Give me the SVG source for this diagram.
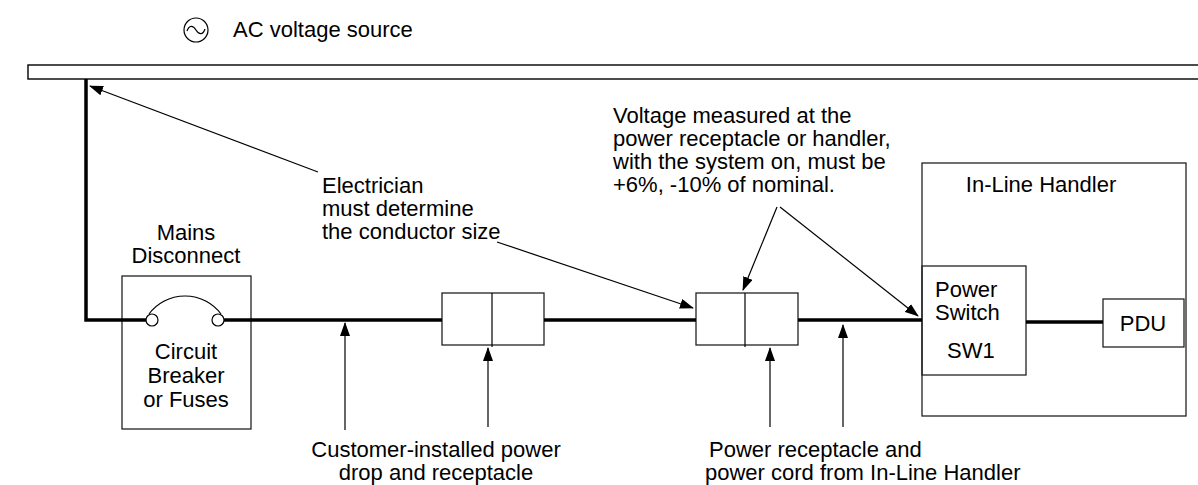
<svg xmlns="http://www.w3.org/2000/svg" width="1198" height="485" viewBox="0 0 1198 485">
<style>
text{font-family:"Liberation Sans",Arial,sans-serif;font-size:22px;fill:#000}
.c{text-anchor:middle}
.box{fill:#fff;stroke:#222;stroke-width:1.3}
.frame{fill:none;stroke:#222;stroke-width:1.3}
.wire{fill:none;stroke:#000;stroke-width:3.5}
.lead{fill:none;stroke:#000;stroke-width:1.2}
</style>
<defs>
<marker id="ah" markerUnits="userSpaceOnUse" markerWidth="14" markerHeight="10" refX="13" refY="5" orient="auto">
<path d="M0,0 L14,5 L0,10 Z" fill="#000"/>
</marker>
</defs>
<g id="legend">
<circle cx="196" cy="30" r="12" fill="none" stroke="#000" stroke-width="1.2"/>
<path d="M187,31 C189,25 193,25 196,30 C199,35 203,35 205,29" fill="none" stroke="#000" stroke-width="1.2"/>
<text x="233" y="37">AC voltage source</text>
</g>
<g id="source-bar">
<rect x="28" y="65" width="1180" height="14" fill="#fff" stroke="#000" stroke-width="1.4"/>
</g>
<g id="mains-disconnect">
<text class="c" x="186" y="240">Mains</text>
<text class="c" x="186" y="263">Disconnect</text>
<rect class="box" x="122" y="276" width="129" height="153"/>
<path d="M149,314 A45,45 0 0 1 221,314" fill="none" stroke="#000" stroke-width="1.2"/>
<text class="c" x="186" y="359">Circuit</text>
<text class="c" x="186" y="383">Breaker</text>
<text class="c" x="186" y="407">or Fuses</text>
</g>
<g id="receptacle-1">
<rect class="box" x="442" y="293" width="102" height="52"/>
<line x1="492" y1="293" x2="492" y2="347" stroke="#000" stroke-width="1.2"/>
</g>
<g id="receptacle-2">
<rect class="box" x="696" y="293" width="102" height="52"/>
<line x1="745" y1="293" x2="745" y2="347" stroke="#000" stroke-width="1.2"/>
</g>
<g id="in-line-handler">
<rect class="frame" x="922" y="163" width="264" height="253"/>
<text class="c" x="1041" y="192">In-Line Handler</text>
</g>
<g id="power-switch">
<rect class="frame" x="922" y="266" width="104" height="109"/>
<text x="935" y="297">Power</text>
<text x="935" y="320">Switch</text>
<text x="947" y="358">SW1</text>
</g>
<g id="pdu">
<rect class="frame" x="1103" y="299" width="81" height="48"/>
<text class="c" x="1143" y="331">PDU</text>
</g>
<g id="connectors">
<path class="wire" d="M86,79 V320 H147"/>
<path class="wire" d="M224,320 H442"/>
<path class="wire" d="M544,320 H696"/>
<path class="wire" d="M798,320 H922"/>
<path class="wire" d="M1026,322 H1103"/>
<circle cx="152" cy="320" r="6" fill="#fff" stroke="#000" stroke-width="1.2"/>
<circle cx="218" cy="320" r="6" fill="#fff" stroke="#000" stroke-width="1.2"/>
<line class="lead" x1="318" y1="172" x2="90" y2="86" marker-end="url(#ah)"/>
<line class="lead" x1="497" y1="242" x2="693" y2="308" marker-end="url(#ah)"/>
<line class="lead" x1="777" y1="207" x2="743" y2="290" marker-end="url(#ah)"/>
<line class="lead" x1="780" y1="207" x2="918" y2="316" marker-end="url(#ah)"/>
<line class="lead" x1="345" y1="430" x2="345" y2="323" marker-end="url(#ah)"/>
<line class="lead" x1="488" y1="427" x2="488" y2="348" marker-end="url(#ah)"/>
<line class="lead" x1="770" y1="427" x2="770" y2="348" marker-end="url(#ah)"/>
<line class="lead" x1="843" y1="427" x2="843" y2="325" marker-end="url(#ah)"/>
</g>
<g id="notes">
<text x="322" y="193">Electrician</text>
<text x="322" y="216">must determine</text>
<text x="322" y="239">the conductor size</text>
<text x="613" y="123">Voltage measured at the</text>
<text x="613" y="146">power receptacle or handler,</text>
<text x="613" y="169">with the system on, must be</text>
<text x="613" y="192">+6%, -10% of nominal.</text>
<text class="c" x="436" y="457">Customer-installed power</text>
<text class="c" x="436" y="480">drop and receptacle</text>
<text x="709" y="457">Power receptacle and</text>
<text x="705" y="480">power cord from In-Line Handler</text>
</g>
</svg>
